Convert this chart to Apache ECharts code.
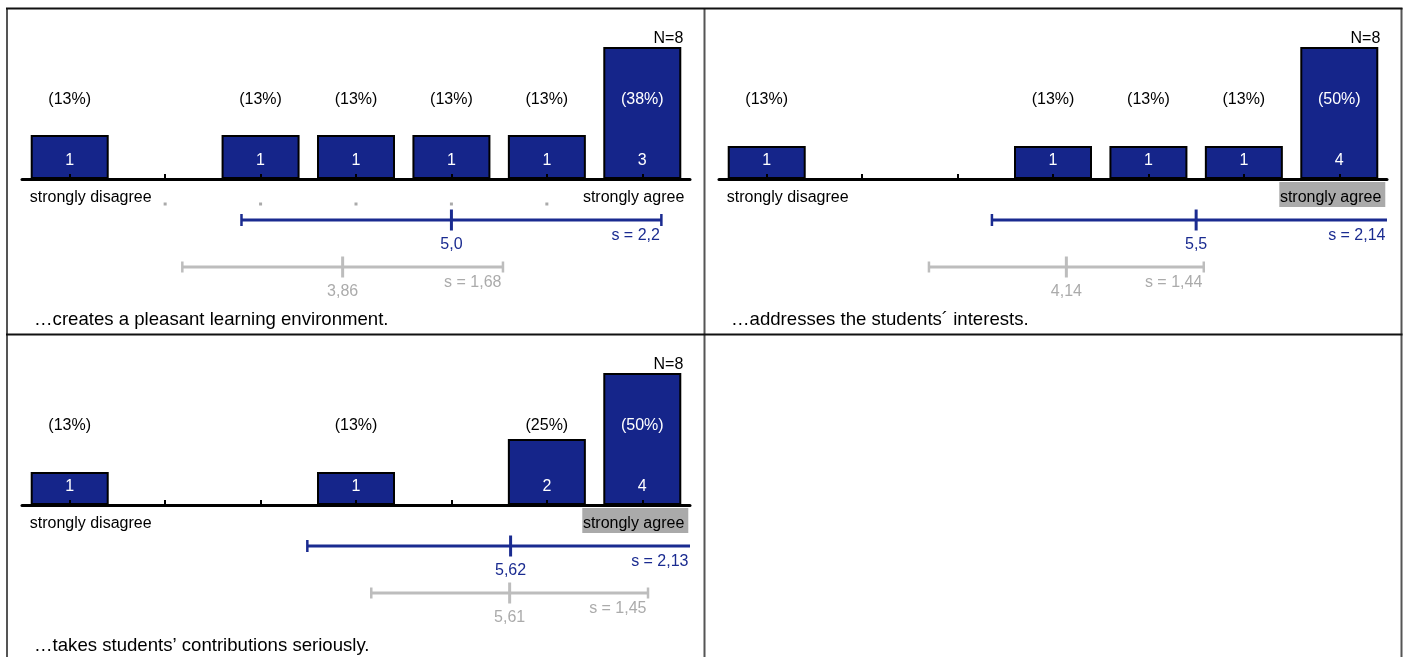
<!DOCTYPE html>
<html><head><meta charset="utf-8">
<script src="https://cdn.jsdelivr.net/npm/echarts@6/dist/echarts.min.js"></script>
<style>html,body{margin:0;padding:0;background:#fff}#c{width:1406px;height:657px}</style>
</head><body><div id="c"></div>
<script>
// ---------- data ----------
const categories = ['1', '2', '3', '4', '5', '6', '7'];
const scaleLabels = ['strongly disagree', 'strongly agree'];
const captions = [
  '…creates a pleasant learning environment.',
  '…addresses the students´ interests.',
  '…takes students’ contributions seriously.'
];
const counts1 = [1, 0, 1, 1, 1, 1, 3];
const counts2 = [1, 0, 0, 1, 1, 1, 4];
const counts3 = [1, 0, 0, 1, 0, 2, 4];
const nValues = [8, 8, 8];
const means = [5.0, 5.5, 5.62];
const meanLabels = ['5,0', '5,5', '5,62'];
const sds = [2.2, 2.14, 2.13];
const sdLabels = ['s = 2,2', 's = 2,14', 's = 2,13'];
const compMeans = [3.86, 4.14, 5.61];
const compMeanLabels = ['3,86', '4,14', '5,61'];
const compSds = [1.68, 1.44, 1.45];
const compSdLabels = ['s = 1,68', 's = 1,44', 's = 1,45'];
const midDots = [true, false, false];
const agreeHighlight = [false, true, true];

// ---------- layout / style ----------
const FONT = 'Liberation Sans, Arial, sans-serif';
const BAR_COLOR = '#15258a';
const BLUE = '#1a2b90';
const GREY_LINE = '#bdbdbd';
const GREY_TEXT = '#ababab';
const panels = [
  { left: 22, top: 47, capX: 34 },
  { left: 719, top: 47, capX: 731 },
  { left: 22, top: 373, capX: 34 }
];
const GW = 668, GH = 132;
const allCounts = [counts1, counts2, counts3];

const chart = echarts.init(document.getElementById('c'), null, { renderer: 'canvas' });
const grid = [], xAxis = [], yAxis = [], series = [], graphic = [];

panels.forEach((p, k) => {
  const counts = allCounts[k];
  const yMax = Math.max(...counts);
  grid.push({ left: p.left, top: p.top, width: GW, height: GH });
  xAxis.push({
    type: 'category', gridIndex: k, data: categories, boundaryGap: true, z: 10,
    axisLine: { lineStyle: { color: '#000', width: 3 } },
    axisTick: { show: true, inside: true, length: 5, alignWithLabel: true, lineStyle: { color: '#000', width: 2 } },
    axisLabel: { show: false }, splitLine: { show: false }
  });
  xAxis.push({ type: 'value', gridIndex: k, min: 0.5, max: 7.5, show: false });
  yAxis.push({ type: 'value', gridIndex: k, min: 0, max: yMax, show: false });

  series.push({
    type: 'bar', xAxisIndex: 2 * k, yAxisIndex: k, data: counts, barWidth: 78,
    itemStyle: { color: BAR_COLOR, borderColor: '#000', borderWidth: 2 },
    label: {
      show: true, position: 'insideBottom', distance: 10, color: '#fff', fontSize: 16, fontFamily: FONT,
      formatter: (d) => d.value > 0 ? String(d.value) : ''
    },
    silent: true, animation: false
  });

  // category texts: percentages, scale end labels, N
  series.push({
    type: 'custom', xAxisIndex: 2 * k, yAxisIndex: k, z: 20, animation: false, silent: true,
    data: counts.map((c, i) => [i, c]),
    renderItem: (params, api) => {
      const i = api.value(0), c = api.value(1);
      const base = api.coord([i, 0]);
      const top = api.coord([i, c]);
      const x = base[0], B = base[1];
      const ch = [];
      if (c > 0) {
        const ly = B - 79;
        ch.push({ type: 'text', style: {
          x: x, y: ly, text: '(' + Math.round(c / nValues[k] * 100) + '%)',
          fill: top[1] < ly - 8 ? '#fff' : '#000', font: '16px ' + FONT, align: 'center', verticalAlign: 'middle' } });
      }
      if (i === 0) {
        ch.push({ type: 'text', style: { x: x - 40, y: B + 19, text: scaleLabels[0], fill: '#000',
          font: '16px ' + FONT, align: 'left', verticalAlign: 'middle' } });
      }
      if (i === categories.length - 1) {
        if (agreeHighlight[k]) {
          ch.push({ type: 'rect', shape: { x: x + 46 - 106, y: B + 3, width: 106, height: 25 },
            style: { fill: '#aaaaaa' } });
        }
        ch.push({ type: 'text', style: { x: x + 42, y: B + 19, text: scaleLabels[1], fill: '#000',
          font: '16px ' + FONT, align: 'right', verticalAlign: 'middle' } });
        const gTop = api.coord([i, yMax])[1];
        ch.push({ type: 'text', style: { x: x + 41, y: gTop - 8, text: 'N=' + nValues[k], fill: '#000',
          font: '16px ' + FONT, align: 'right', verticalAlign: 'middle' } });
      }
      if (midDots[k] && i > 0 && i < categories.length - 1) {
        ch.push({ type: 'rect', shape: { x: x - 1.5, y: B + 23.5, width: 3, height: 3 }, style: { fill: '#aaaaaa' } });
      }
      return { type: 'group', children: ch };
    }
  });

  // mean / sd bars
  series.push({
    type: 'custom', xAxisIndex: 2 * k + 1, yAxisIndex: k, z: 20, animation: false, silent: true, clip: false,
    data: [[means[k], sds[k], 0], [compMeans[k], compSds[k], 1]],
    renderItem: (params, api) => {
      const m = api.value(0), s = api.value(1), t = api.value(2);
      const lo = Math.max(m - s, 0.5), hi = Math.min(m + s, 7.5);
      const B = api.coord([m, 0])[1];
      const xm = api.coord([m, 0])[0], xl = api.coord([lo, 0])[0], xh = api.coord([hi, 0])[0];
      const color = t === 0 ? BLUE : GREY_LINE;
      const tcolor = t === 0 ? BLUE : GREY_TEXT;
      const y = B + (t === 0 ? 41 : 88);
      const cap = t === 0 ? 6 : 5.5;
      const ls = { stroke: color, lineWidth: 3 };
      const ch = [
        { type: 'line', shape: { x1: xl, y1: y, x2: xh, y2: y }, style: ls },
        { type: 'line', shape: { x1: xm, y1: y - 10.5, x2: xm, y2: y + 10.5 }, style: ls }
      ];
      if (m - s >= 0.5) ch.push({ type: 'line', shape: { x1: xl, y1: y - cap, x2: xl, y2: y + cap }, style: { stroke: color, lineWidth: 2.5 } });
      if (m + s <= 7.5) ch.push({ type: 'line', shape: { x1: xh, y1: y - cap, x2: xh, y2: y + cap }, style: { stroke: color, lineWidth: 2.5 } });
      ch.push({ type: 'text', style: { x: xm, y: y + 25, text: t === 0 ? meanLabels[k] : compMeanLabels[k],
        fill: tcolor, font: '16px ' + FONT, align: 'center', verticalAlign: 'middle' } });
      ch.push({ type: 'text', style: { x: xh - 1.5, y: y + 16, text: t === 0 ? sdLabels[k] : compSdLabels[k],
        fill: tcolor, font: '16px ' + FONT, align: 'right', verticalAlign: 'middle' } });
      return { type: 'group', children: ch };
    }
  });

  graphic.push({ type: 'text', left: p.capX, top: p.top + GH + 140 - 9, silent: true,
    style: { text: captions[k], fill: '#000', font: '18.6px ' + FONT } });
});

// panel borders
const lineStyleV = { stroke: '#555', lineWidth: 2 };
const lineStyleH = { stroke: '#111', lineWidth: 2 };
graphic.push(
  { type: 'line', shape: { x1: 7, y1: 8, x2: 7, y2: 657 }, style: lineStyleV, silent: true },
  { type: 'line', shape: { x1: 704.5, y1: 8, x2: 704.5, y2: 657 }, style: lineStyleV, silent: true },
  { type: 'line', shape: { x1: 1401.5, y1: 8, x2: 1401.5, y2: 657 }, style: lineStyleV, silent: true },
  { type: 'line', shape: { x1: 6, y1: 8.5, x2: 1402.5, y2: 8.5 }, style: lineStyleH, silent: true },
  { type: 'line', shape: { x1: 6, y1: 334.5, x2: 1402.5, y2: 334.5 }, style: lineStyleH, silent: true }
);

chart.setOption({
  animation: false,
  backgroundColor: '#fff',
  grid, xAxis, yAxis, series, graphic
});
</script>
</body></html>
